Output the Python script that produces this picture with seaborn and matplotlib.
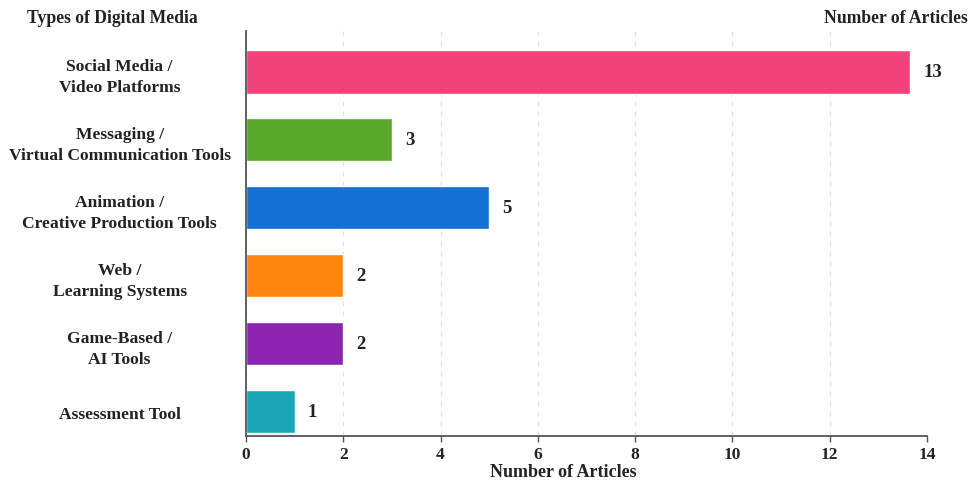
import matplotlib
matplotlib.use("Agg")
import matplotlib.pyplot as plt
import seaborn as sns
import pandas as pd

categories = [
    "Social Media /\nVideo Platforms",
    "Messaging /\nVirtual Communication Tools",
    "Animation /\nCreative Production Tools",
    "Web /\nLearning Systems",
    "Game-Based /\nAI Tools",
    "Assessment Tool",
]
article_counts = [13, 3, 5, 2, 2, 1]
bar_lengths = [13.65, 3, 5, 2, 2, 1]
bar_colors = ["#EF4379", "#58A82A", "#1572D2", "#FF870F", "#8B24AE", "#1CA7B7"]
x_ticks = [0, 2, 4, 6, 8, 10, 12, 14]

sns.set_theme(style="white")
plt.rcParams["font.family"] = ["Liberation Serif", "DejaVu Serif"]
plt.rcParams["font.weight"] = "bold"

df = pd.DataFrame({"cat": categories, "len": bar_lengths})

fig = plt.figure(figsize=(9.73, 4.85), dpi=100)
ax = fig.add_axes([0.2528, 0.099, 0.7, 0.835])

sns.barplot(data=df, x="len", y="cat", hue="cat", palette=bar_colors,
            legend=False, width=0.64, ax=ax, orient="h", saturation=1)

for i, (ln, c) in enumerate(zip(bar_lengths, article_counts)):
    ax.text(ln + 0.27, i, str(c), va="center", ha="left", fontsize=13.5,
            fontweight="bold", color="#222222")

ax.set_xlim(0, 14)
ax.set_ylim(5.36, -0.6)
ax.set_xticks(x_ticks)
ax.set_xticklabels([str(t) for t in x_ticks], fontsize=12.5, fontweight="bold", color="#222222")
ax.set_yticks(range(len(categories)))
ax.set_yticklabels(categories, fontsize=12.6, fontweight="bold", color="#222222",
                   ha="center", linespacing=1.45)
ax.tick_params(axis="y", length=0, pad=91)
ax.tick_params(axis="x", length=4, width=1, color="#555555", pad=3, bottom=True)
ax.set_xlabel("")
ax.set_ylabel("")

ax.grid(axis="x", linestyle=(0, (4, 4)), color="#e2e2e2", linewidth=0.9)
ax.set_axisbelow(True)
for s in ["top", "right"]:
    ax.spines[s].set_visible(False)
for s in ["left", "bottom"]:
    ax.spines[s].set_color("#555555")
    ax.spines[s].set_linewidth(1.3)

fig.text(27 / 973, 0.962, "Types of Digital Media", fontsize=12.7, fontweight="bold",
         color="#222222", ha="left", va="center")
fig.text(968 / 973, 0.962, "Number of Articles", fontsize=12.7, fontweight="bold",
         color="#222222", ha="right", va="center")
fig.text(563 / 973, 1 - 473 / 485, "Number of Articles", fontsize=13, fontweight="bold",
         color="#222222", ha="center", va="center")

fig.savefig("out.png", dpi=100, facecolor="white")
